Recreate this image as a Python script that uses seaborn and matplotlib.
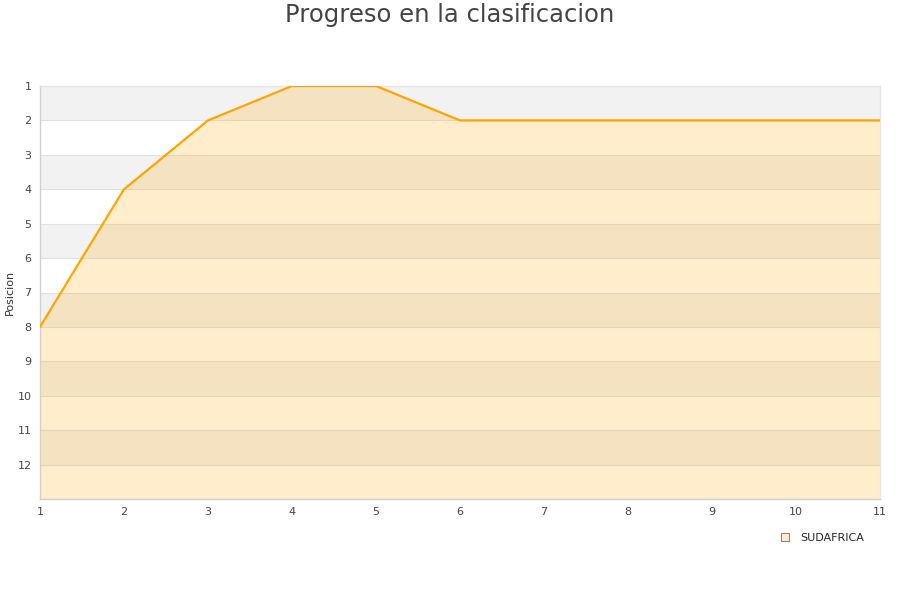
import matplotlib
matplotlib.use("Agg")
import matplotlib.pyplot as plt
import seaborn as sns
import pandas as pd
from matplotlib.lines import Line2D

jornadas = [1, 2, 3, 4, 5, 6, 7, 8, 9, 10, 11]
posiciones = [8, 4, 2, 1, 1, 2, 2, 2, 2, 2, 2]
equipo = "SUDAFRICA"
y_ticks = list(range(1, 13))
title = "Progreso en la clasificacion"
ylabel = "Posicion"

sns.set_theme(style="white")
plt.rcParams['font.family'] = ['DejaVu Sans']

df = pd.DataFrame({"Jornada": jornadas, "Posicion": posiciones})

fig = plt.figure(figsize=(9, 6), dpi=100)
ax = fig.add_axes([40/900, 1-499/600, 840/900, 413/600])

# alternating bands
for k in range(1, 13):
    if k % 2 == 1:
        ax.axhspan(k, k+1, color="#f2f2f2", zorder=0, lw=0)
for k in range(2, 13):
    ax.axhline(k, color="#e0e0e0", lw=0.8, zorder=0.5)

ax.fill_between(df["Jornada"], df["Posicion"], 13, color="#FFA500", alpha=0.2, lw=0, zorder=1)
sns.lineplot(data=df, x="Jornada", y="Posicion", ax=ax, color="#FFA500", lw=1.6, zorder=3)

ax.set_xlim(1, 11)
ax.set_ylim(13, 1)
ax.set_yticks(y_ticks)
ax.set_xticks(jornadas)
ax.tick_params(axis='both', labelsize=8, colors="#444444", length=0, pad=6)
ax.set_xlabel("")
ax.set_ylabel(ylabel, fontsize=8, color="#333333", labelpad=2)
for s in ["left", "bottom"]:
    ax.spines[s].set_color("#d0d0d0")
    ax.spines[s].set_linewidth(1)
for s in ["top", "right"]:
    ax.spines[s].set_color("#e6e6e6")
    ax.spines[s].set_linewidth(1)

fig.text(0.5, 1-15/600, title, ha="center", va="center", fontsize=17.5, color="#444444")

handle = Line2D([], [], marker="s", linestyle="none", markersize=6,
                markerfacecolor="#FFEDCC", markeredgecolor="#888888", markeredgewidth=0.8)
fig.legend([handle], [equipo], loc="center", bbox_to_anchor=(819/900, 1-538/600),
           frameon=False, fontsize=8, handletextpad=0.4, borderpad=0)

fig.savefig("out.png", dpi=100)
